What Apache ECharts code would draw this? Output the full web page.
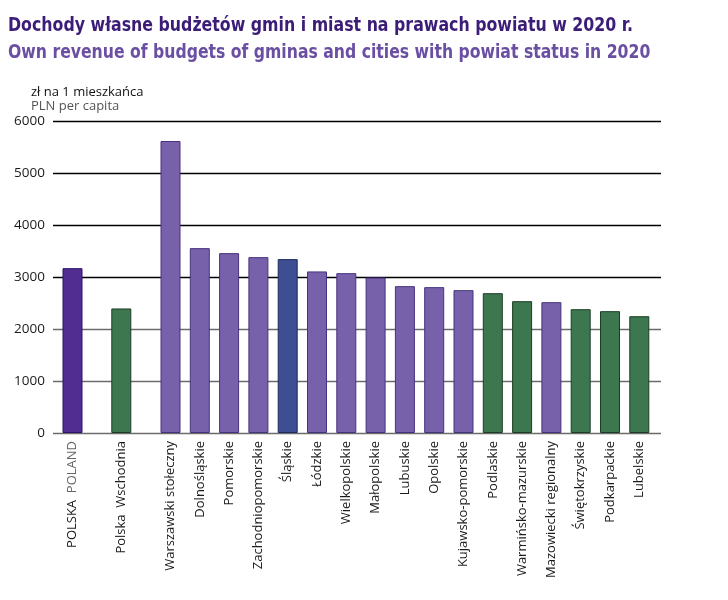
<!DOCTYPE html>
<html><head><meta charset="utf-8">
<script src="https://cdn.jsdelivr.net/npm/echarts@6/dist/echarts.min.js"></script>
<style>html,body{margin:0;padding:0;background:#fff}#c{width:728px;height:600px}</style>
</head><body><div id="c"></div>
<script>
const titlePL = 'Dochody własne budżetów gmin i miast na prawach powiatu w 2020 r.';
const titleEN = 'Own revenue of budgets of gminas and cities with powiat status in 2020';
const unitPL = 'zł na 1 mieszkańca';
const unitEN = 'PLN per capita';
const categories = ['POLSKA  POLAND', 'Polska  Wschodnia', 'Warszawski stołeczny', 'Dolnośląskie', 'Pomorskie',
  'Zachodniopomorskie', 'Śląskie', 'Łódzkie', 'Wielkopolskie', 'Małopolskie', 'Lubuskie', 'Opolskie',
  'Kujawsko-pomorskie', 'Podlaskie', 'Warmińsko-mazurskie', 'Mazowiecki regionalny', 'Świętokrzyskie',
  'Podkarpackie', 'Lubelskie'];
const values = [3170, 2395, 5615, 3555, 3459, 3382, 3344, 3107, 3074, 2990, 2824, 2805, 2747, 2689, 2535, 2516, 2381, 2343, 2246];
const groups = ['total', 'east', 'region', 'region', 'region', 'region', 'highlight', 'region', 'region', 'region', 'region',
  'region', 'region', 'east', 'east', 'region', 'east', 'east', 'east'];
const yMin = 0, yMax = 6000, yStep = 1000;

const fills = { total: '#512d91', east: '#3d7750', region: '#7761aa', highlight: '#3e4e93' };
const borders = { total: '#2c1566', east: '#1c3d25', region: '#47327e', highlight: '#1f2a60' };

const PLOT_L = 53, PLOT_R = 661, PLOT_T = 121, PLOT_B = 433;
const W = 728, H = 600;
const slot = 29.3;
const sections = [[0, 1, 72.5], [1, 2, 121.3], [2, 19, 170.5]];
const LABEL_FONT = 'Open Sans, sans-serif';
const TITLE_FONT = 'bold 20px "DejaVu Sans Condensed", "DejaVu Sans", sans-serif';

const grid = [{ left: PLOT_L, right: W - PLOT_R, top: PLOT_T, bottom: H - PLOT_B }];
const xAxis = [{ type: 'value', gridIndex: 0, show: false, min: 0, max: 1 }];
const yAxis = [{
  type: 'value', gridIndex: 0, min: yMin, max: yMax, interval: yStep,
  axisLine: { show: false }, axisTick: { show: false },
  axisLabel: { color: '#1a1a1a', fontSize: 13.5, fontFamily: LABEL_FONT, margin: 8, formatter: v => String(v) },
  splitLine: { lineStyle: { color: ['#6b6b6b', '#6b6b6b', '#6b6b6b', '#000', '#000', '#000', '#000'], width: 1.4 } }
}];
const series = [];
sections.forEach((s, k) => {
  const n = s[1] - s[0];
  const left = s[2] - slot / 2;
  grid.push({ left: left, width: n * slot, top: PLOT_T, bottom: H - PLOT_B });
  const gi = k + 1;
  xAxis.push({
    type: 'category', gridIndex: gi, data: categories.slice(s[0], s[1]),
    axisLine: { show: false }, axisTick: { show: false },
    axisLabel: {
      rotate: 90, interval: 0, margin: 8, fontSize: 13, fontFamily: LABEL_FONT, color: '#1a1a1a',
      formatter: v => {
        if (v.indexOf('POLAND') >= 0) { const p = v.split(/\s+/); return '{a|' + p[0] + '}  {b|' + p[1] + '}'; }
        return v;
      },
      rich: { a: { color: '#1a1a1a', fontSize: 13, fontFamily: LABEL_FONT }, b: { color: '#666', fontSize: 13, fontFamily: LABEL_FONT } }
    }
  });
  yAxis.push({ type: 'value', gridIndex: gi, min: yMin, max: yMax, show: false, splitLine: { show: false } });
  series.push({
    type: 'bar', xAxisIndex: gi, yAxisIndex: gi, barWidth: 20, silent: true,
    data: values.slice(s[0], s[1]).map((v, i) => {
      const g = groups[s[0] + i];
      return { value: v, itemStyle: { color: fills[g], borderColor: borders[g], borderWidth: 1 } };
    })
  });
});

const chart = echarts.init(document.getElementById('c'), null, { renderer: 'canvas' });
chart.setOption({
  animation: false,
  backgroundColor: '#fff',
  grid, xAxis, yAxis, series,
  graphic: [
    { type: 'text', x: 8, y: 16, scaleX: 0.878, style: { text: titlePL, fill: '#3b1d78', font: TITLE_FONT } },
    { type: 'text', x: 8, y: 43, scaleX: 0.871, style: { text: titleEN, fill: '#6a4fa3', font: TITLE_FONT } },
    { type: 'text', left: 31, top: 86, style: { text: unitPL, fill: '#111', font: '13px "Open Sans", sans-serif' } },
    { type: 'text', left: 31, top: 100, style: { text: unitEN, fill: '#555', font: '13px "Open Sans", sans-serif' } }
  ]
});
</script>
</body></html>
